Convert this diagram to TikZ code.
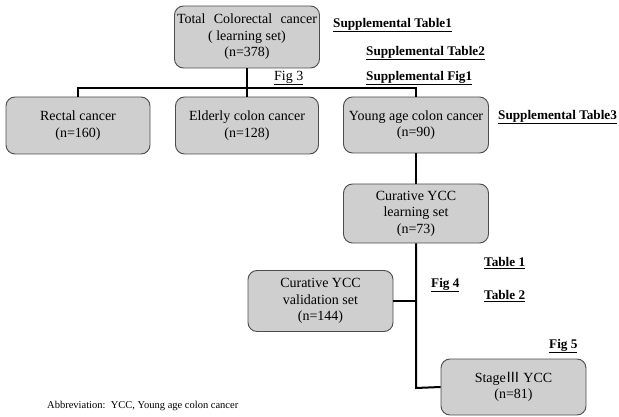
\documentclass[tikz,border=0pt]{standalone}
\usepackage{fontspec}
\setmainfont{Liberation Serif}
\newfontfamily\cjkjp{Noto Sans CJK JP}
\begin{document}
\begin{tikzpicture}[x=1pt,y=-1pt,
  box/.style={draw=black!70, fill=black!19, rounded corners=9pt, line width=0.9pt,
    align=center, inner sep=0pt, minimum width=145pt,
    font=\fontsize{14}{16.5}\selectfont},
  conn/.style={draw=black, line width=2pt},
  ref/.style={font=\fontsize{13.2}{15}\selectfont\bfseries, inner sep=0pt},
  refl/.style={font=\fontsize{14}{15}\selectfont, inner sep=0pt}]
\useasboundingbox (0,0) rectangle (619,417);
\node[box, minimum height=62pt] (top) at (247,37)
  {\makebox[140pt][s]{Total Colorectal cancer}\\( learning set)\\(n=378)};
\node[box, minimum height=57pt, minimum width=144pt] (rectal) at (78,125.5) {Rectal cancer\\(n=160)};
\node[box, minimum height=57pt, minimum width=143pt] (elderly) at (247,125.5) {Elderly colon cancer\\(n=128)};
\node[box, minimum height=56pt] (young) at (416,125) {Young age colon cancer\\(n=90)};
\node[box, minimum height=59pt] (learning) at (416,213.5) {Curative YCC\\learning set\\(n=73)};
\node[box, minimum height=61pt] (valid) at (320.5,301) {Curative YCC\\validation set\\(n=144)};
\node[box, minimum height=56pt] (stage) at (513.5,387) {Stage{\cjkjp Ⅲ} YCC\\(n=81)};
\coordinate (hl) at (78,88);
\coordinate (hr) at (416,88);
\coordinate (bend) at (416,388);
\draw[conn] (top.south) -- (elderly.north);
\draw[conn] (rectal.north) -- (hl) -- (hr) -- (young.north);
\draw[conn] (young.south) -- (learning.north);
\draw[conn] (learning.south) -- (bend) -- (stage.west);
\draw[conn] (valid.east) -- (valid.east -| bend);
\node[ref, anchor=west] (st1) at (333,25) {\underline{Supplemental Table1}};
\node[ref, anchor=west] (st2) at (366,53) {\underline{Supplemental Table2}};
\node[ref, anchor=west] (sf1) at (366,78) {\underline{Supplemental Fig1}};
\node[refl, anchor=west] (f3) at (274,78) {\underline{Fig 3}};
\node[ref, anchor=west] (st3) at (498,117) {\underline{Supplemental Table3}};
\node[ref, anchor=west] (t1) at (484,263) {\underline{Table 1}};
\node[ref, anchor=west] (t2) at (484,296) {\underline{Table 2}};
\node[ref, anchor=west] (f4) at (431,285) {\underline{Fig 4}};
\node[ref, anchor=west] (f5) at (549,346) {\underline{Fig 5}};
\node[anchor=west, inner sep=0pt, font=\fontsize{10.5}{12}\selectfont] (abbr) at (47,406) {Abbreviation:\ \ YCC, Young age colon cancer};
\end{tikzpicture}
\end{document}
